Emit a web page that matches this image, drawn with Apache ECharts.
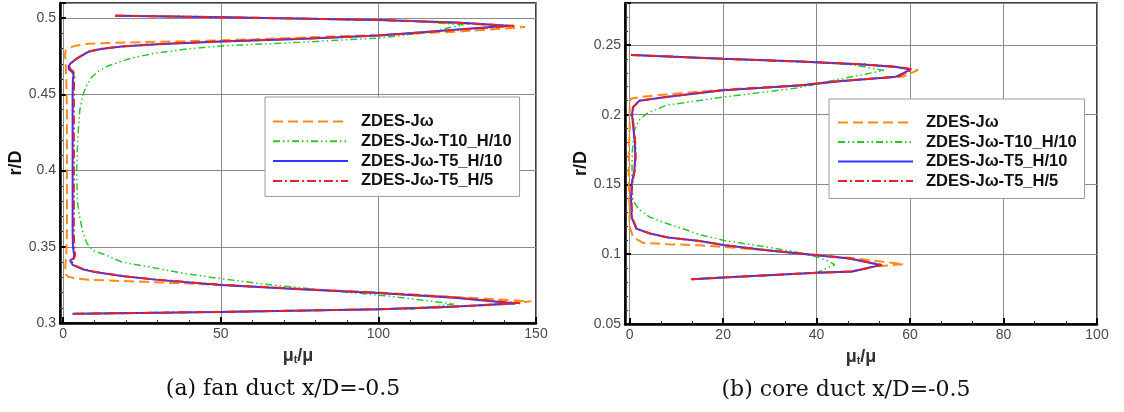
<!DOCTYPE html>
<html><head><meta charset="utf-8">
<script src="https://cdn.jsdelivr.net/npm/echarts@6/dist/echarts.min.js"></script>
<style>html,body{margin:0;padding:0;background:#fff}#c{width:1124px;height:412px}</style>
</head><body><div id="c"></div>
<script>
// ---------- data ----------
const seriesNames = ['ZDES-Jω', 'ZDES-Jω-T10_H/10', 'ZDES-Jω-T5_H/10', 'ZDES-Jω-T5_H/5'];
const captions = ['(a) fan duct x/D=-0.5', '(b) core duct x/D=-0.5'];
const fanXTicks = [0, 50, 100, 150];
const fanYTicks = [0.3, 0.35, 0.4, 0.45, 0.5];
const coreXTicks = [0, 20, 40, 60, 80, 100];
const coreYTicks = [0.05, 0.1, 0.15, 0.2, 0.25];

// fan duct: [mu_t/mu, r/D]
const fanJw = [[16.5,0.5017],[50,0.5007],[100,0.4988],[125,0.4968],[146.5,0.4942],[125,0.4912],[100,0.4890],[75,0.4872],[61,0.4862],[40,0.4850],[25,0.4843],[15,0.4838],[8,0.4832],[4,0.4820],[1.8,0.4805],[0.8,0.4790],[0.6,0.4760],[0.8,0.47],[1.0,0.46],[1.2,0.44],[1.2,0.40],[1.2,0.36],[1.0,0.345],[0.7,0.338],[0.6,0.3325],[1.5,0.3305],[4,0.3292],[8,0.3284],[18,0.3276],[29,0.3268],[40,0.3259],[50,0.3250],[75,0.3224],[100,0.3200],[125,0.3170],[148.5,0.3142],[130,0.3112],[100,0.3090],[50,0.3073],[3,0.3060]];
const fanT10H10 = [[16.5,0.5017],[50,0.5007],[100,0.4989],[112,0.4980],[127,0.4957],[115,0.4905],[100,0.4870],[75,0.4842],[50,0.4818],[40,0.4800],[29,0.4770],[22,0.4740],[18.6,0.4718],[14,0.4685],[11,0.4650],[9,0.4612],[7.5,0.456],[6.3,0.450],[5.3,0.44],[4.6,0.42],[4.3,0.40],[4.5,0.38],[5.2,0.37],[6.2,0.36],[7.6,0.352],[9.5,0.3475],[13.3,0.3448],[18.6,0.3400],[29,0.3361],[40,0.3320],[50,0.3291],[65,0.3252],[82,0.3218],[103,0.3177],[124,0.3125],[112,0.3093],[100,0.3089],[50,0.3073],[3,0.3060]];
const fanT5H10 = [[16.5,0.5017],[50,0.5007],[100,0.4989],[125,0.4972],[141,0.4950],[120,0.4918],[100,0.4886],[75,0.4864],[50,0.4847],[30,0.4830],[18.6,0.4814],[12,0.4798],[8,0.4780],[5.9,0.4755],[4,0.4730],[2.4,0.4705],[1.7,0.4685],[1.8,0.4665],[2.8,0.4648],[3.3,0.4630],[3.1,0.460],[3,0.45],[3,0.42],[3,0.40],[3,0.38],[3,0.36],[3.1,0.35],[3.5,0.3445],[3.3,0.3425],[2.2,0.3410],[1.8,0.3398],[3,0.3382],[5.9,0.3355],[10,0.3334],[18.6,0.3308],[30,0.3283],[50,0.3250],[75,0.3222],[100,0.3197],[124,0.3166],[143.5,0.3128],[120,0.3104],[100,0.3090],[50,0.3073],[3,0.3060]];
const fanT5H5 = [[16.5,0.5017],[50,0.5007],[100,0.4989],[125,0.4971],[143,0.4950],[120,0.4917],[100,0.4886],[75,0.4865],[50,0.4848],[30,0.4831],[18.6,0.4815],[12,0.4799],[8,0.4781],[5.9,0.4757],[4,0.4732],[2.6,0.4707],[2.0,0.4688],[2.2,0.4668],[3.2,0.4650],[3.6,0.4630],[3.5,0.460],[3.4,0.45],[3.4,0.42],[3.4,0.40],[3.4,0.38],[3.4,0.36],[3.5,0.35],[3.8,0.3445],[3.5,0.3425],[2.5,0.3410],[2.1,0.3398],[3.3,0.3382],[6.2,0.3355],[10.5,0.3334],[19,0.3308],[30,0.3284],[50,0.3251],[75,0.3223],[100,0.3198],[124,0.3168],[145,0.3130],[120,0.3104],[100,0.3090],[50,0.3073],[3,0.3060]];

// core duct: [mu_t/mu, r/D]
const coreJw = [[0.3,0.2428],[20,0.2400],[36.4,0.2381],[50,0.2360],[57,0.2343],[61.7,0.2320],[58.6,0.2274],[45,0.2242],[36.4,0.2212],[20,0.2179],[7.8,0.2145],[2,0.2125],[0.2,0.2114],[0,0.205],[0,0.19],[-0.2,0.17],[-0.2,0.15],[0,0.13],[-0.1,0.1207],[0.7,0.1124],[2.8,0.1081],[8,0.1072],[15,0.1064],[20,0.1052],[29.2,0.1029],[40,0.0993],[47,0.0975],[52,0.0955],[58.6,0.0929],[51.8,0.0910],[47.6,0.0876],[40,0.0867],[20,0.0833],[13.2,0.0820]];
const coreT10H10 = [[0.3,0.2428],[20,0.2400],[36.4,0.2381],[45,0.2365],[48.7,0.2352],[54.4,0.2316],[48,0.2275],[42,0.2235],[36.4,0.2193],[20,0.2126],[7.8,0.2067],[3.6,0.2007],[2,0.1960],[1,0.1888],[0.6,0.175],[0.5,0.165],[0.5,0.155],[0.6,0.145],[0.7,0.1386],[2,0.1320],[4.3,0.1266],[7.5,0.1225],[11.4,0.1183],[15,0.1140],[20,0.1100],[29.2,0.1052],[35,0.1020],[40,0.0981],[42.5,0.0950],[43.9,0.0926],[41.3,0.0886],[40,0.0867],[20,0.0833],[13.2,0.0820]];
const coreT5H10 = [[0.3,0.2428],[20,0.2400],[36.4,0.2381],[50,0.2360],[57,0.2342],[60.2,0.2324],[57,0.2272],[45,0.2240],[36.4,0.2209],[20,0.2174],[7.8,0.2126],[2.1,0.2100],[0.7,0.2054],[0.5,0.2000],[0.8,0.19],[1.1,0.18],[1.2,0.17],[1.0,0.16],[0.4,0.15],[0.3,0.14],[0.4,0.13],[0.4,0.1266],[1.4,0.1183],[4.3,0.1148],[8.2,0.1120],[15,0.1095],[20,0.1066],[29.2,0.1029],[40,0.0993],[47,0.0969],[53.7,0.0922],[47.6,0.0876],[40,0.0867],[20,0.0833],[13.2,0.0820]];
const coreT5H5 = [[0.3,0.2428],[20,0.2400],[36.4,0.2381],[50,0.2361],[57,0.2343],[60.5,0.2324],[57.5,0.2273],[45,0.2241],[36.4,0.2210],[20,0.2175],[7.8,0.2127],[2.1,0.2101],[0.8,0.2055],[0.6,0.2000],[0.9,0.19],[1.2,0.18],[1.3,0.17],[1.1,0.16],[0.5,0.15],[0.4,0.14],[0.5,0.13],[0.5,0.1266],[1.5,0.1183],[4.4,0.1148],[8.3,0.1120],[15,0.1095],[20,0.1066],[29.2,0.1030],[40,0.0994],[47,0.0970],[54,0.0923],[47.6,0.0876],[40,0.0867],[20,0.0833],[13.2,0.0820]];

// ---------- styling ----------
const colors = ['#ff8c1a', '#2cc52c', '#3434ff', '#e8202a'];
const dashes = [[10, 5], [7, 3, 1.5, 3, 1.5, 3], 'solid', [9, 3, 2, 3]];
const widths = [2, 1.5, 2, 2];
const SANS = '"Liberation Sans", Arial, Helvetica, sans-serif';

function fmt(ticks) {
  return function (v) {
    for (const t of ticks) if (Math.abs(t - v) < 1e-9) return String(t);
    return '';
  };
}
function xAxisCfg(gi, min, max, split, minorSplit, ticks) {
  return {
    gridIndex: gi, type: 'value', min: min, max: max, splitNumber: split,
    name: '{m|μ}{s|t}{m|/μ}', nameLocation: 'middle', nameGap: 18,
    nameTextStyle: { rich: {
      m: { fontFamily: SANS, fontSize: 18, fontWeight: 'bold', color: '#333', lineHeight: 20 },
      s: { fontFamily: SANS, fontSize: 11, fontWeight: 'bold', color: '#333', lineHeight: 20, padding: [9, 0, 0, 0] }
    } },
    axisLine: { show: true, onZero: false, lineStyle: { color: '#000', width: 2.5 } },
    axisTick: { show: true, inside: true, length: 6, lineStyle: { color: '#000', width: 2 } },
    minorTick: { show: true, splitNumber: minorSplit, length: 3, lineStyle: { color: '#333', width: 1 } },
    axisLabel: { margin: 4, fontFamily: SANS, fontSize: 14, color: '#4a4a4a', formatter: fmt(ticks) },
    splitLine: { show: true, lineStyle: { color: '#8a8a8a', width: 1 } }
  };
}
function yAxisCfg(gi, min, max, interval, minorSplit, ticks) {
  return {
    gridIndex: gi, type: 'value', min: min, max: max, interval: interval,
    name: 'r/D', nameLocation: 'middle', nameGap: 34,
    nameTextStyle: { fontFamily: SANS, fontSize: 18, fontWeight: 'bold', color: '#111' },
    axisLine: { show: true, onZero: false, lineStyle: { color: '#000', width: 2.5 } },
    axisTick: { show: true, inside: true, length: 6, lineStyle: { color: '#000', width: 2 } },
    minorTick: { show: true, splitNumber: minorSplit, length: 3, lineStyle: { color: '#333', width: 1 } },
    axisLabel: { margin: 4, fontFamily: SANS, fontSize: 14, color: '#4a4a4a', formatter: fmt(ticks) },
    splitLine: { show: true, lineStyle: { color: '#8a8a8a', width: 1 } }
  };
}
function mk(name, idx, gi, data) {
  return {
    name: name, type: 'line', xAxisIndex: gi, yAxisIndex: gi, data: data,
    showSymbol: false, symbol: 'none', animation: false, z: 2 + idx,
    lineStyle: { color: colors[idx], width: widths[idx], type: dashes[idx] },
    itemStyle: { color: colors[idx] }
  };
}
function legendCfg(left, top, pad, gap) {
  return {
    data: seriesNames, orient: 'vertical', left: left, top: top,
    padding: pad, itemWidth: 75, itemHeight: 14, itemGap: gap,
    backgroundColor: '#fff', borderColor: '#9a9a9a', borderWidth: 1,
    selectedMode: false,
    itemStyle: { opacity: 0, borderWidth: 0 },
    textStyle: { fontFamily: SANS, fontSize: 16.5, fontWeight: 'bold', color: '#111', lineHeight: 14, padding: [0, 0, 0, 8] }
  };
}

const chart = echarts.init(document.getElementById('c'), null, { renderer: 'canvas' });
chart.setOption({
  backgroundColor: '#fff',
  animation: false,
  grid: [
    { left: 60, top: 3, width: 476, height: 320, show: true, borderColor: '#000', borderWidth: 1.5, backgroundColor: 'transparent' },
    { left: 625, top: 3, width: 472, height: 321, show: true, borderColor: '#000', borderWidth: 1.5, backgroundColor: 'transparent' }
  ],
  xAxis: [
    xAxisCfg(0, -1, 150, 3, 5, fanXTicks),
    xAxisCfg(1, -1, 100, 5, 3, coreXTicks)
  ],
  yAxis: [
    yAxisCfg(0, 0.3, 0.51, 0.05, 5, fanYTicks),
    yAxisCfg(1, 0.05, 0.28, 0.05, 5, coreYTicks)
  ],
  legend: [
    legendCfg(265, 97, [16, 8, 7, 7], 2.8),
    legendCfg(829, 99, [15, 8, 9, 8], 2.5)
  ],
  graphic: [
    { type: 'text', x: 283, y: 389, style: { text: captions[0], font: '22px "DejaVu Serif", serif', fill: '#111', textAlign: 'center', textVerticalAlign: 'middle' } },
    { type: 'text', x: 846, y: 390, style: { text: captions[1], font: '22px "DejaVu Serif", serif', fill: '#111', textAlign: 'center', textVerticalAlign: 'middle' } }
  ],
  series: [
    mk(seriesNames[0], 0, 0, fanJw), mk(seriesNames[1], 1, 0, fanT10H10), mk(seriesNames[2], 2, 0, fanT5H10), mk(seriesNames[3], 3, 0, fanT5H5),
    mk(seriesNames[0], 0, 1, coreJw), mk(seriesNames[1], 1, 1, coreT10H10), mk(seriesNames[2], 2, 1, coreT5H10), mk(seriesNames[3], 3, 1, coreT5H5)
  ]
});
</script></body></html>
